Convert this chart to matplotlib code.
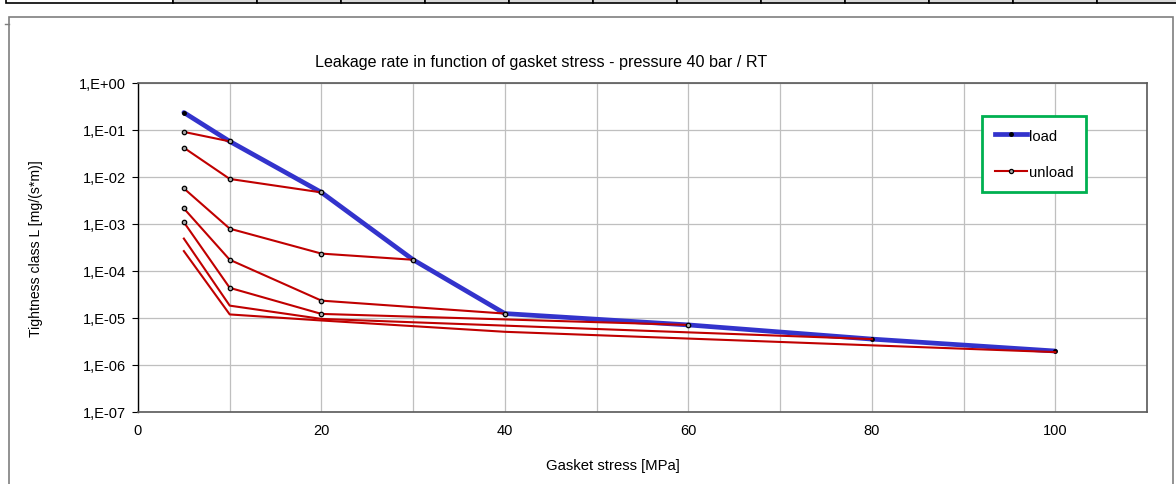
"""
leakage rate vs gasket stress, load / unload curves at 40 bar, RT
"""
import matplotlib
matplotlib.use('Agg')
import matplotlib.pyplot as plt
from matplotlib import ticker
from matplotlib.patches import Rectangle
from matplotlib.lines import Line2D
import numpy as np

plt.rcParams['font.family'] = ['Liberation Sans', 'DejaVu Sans']
plt.rcParams['font.size'] = 10.5

W, H = 1176, 485

# load curve
x_load = [5, 10, 20, 30, 40, 60, 80, 100]
L_load = [2.3e-1, 5.6e-2, 4.6e-3, 1.7e-4, 1.22e-5, 7.0e-6, 3.5e-6, 1.95e-6]

# unload curves, one per max stress reached
x_un10 = [5, 10]
L_un10 = [8.9e-2, 5.6e-2]
x_un20 = [5, 10, 20]
L_un20 = [4.1e-2, 8.9e-3, 4.6e-3]
x_un30 = [5, 10, 20, 30]
L_un30 = [5.6e-3, 7.8e-4, 2.3e-4, 1.7e-4]
x_un40 = [5, 10, 20, 40]
L_un40 = [2.1e-3, 1.7e-4, 2.3e-5, 1.22e-5]
x_un60 = [5, 10, 20, 60]
L_un60 = [1.07e-3, 4.3e-5, 1.2e-5, 7.0e-6]
x_un80 = [5, 10, 20, 80]
L_un80 = [4.8e-4, 1.8e-5, 9.4e-6, 3.5e-6]
x_un100 = [5, 10, 20, 40, 100]
L_un100 = [2.6e-4, 1.17e-5, 8.7e-6, 5.0e-6, 1.85e-6]

unload_marked = [(x_un10, L_un10), (x_un20, L_un20), (x_un30, L_un30),
                 (x_un40, L_un40), (x_un60, L_un60)]
unload_plain = [(x_un80, L_un80), (x_un100, L_un100)]

blue = '#3333CC'
red = '#C00000'

def fx(x):
    return x / W

def fy(y):
    return 1 - y / H

f = plt.figure(figsize=(W / 100, H / 100), dpi=100)

# strip of the sheet table above the chart
f.patches.append(Rectangle((fx(6), fy(4)), fx(173) - fx(6), fy(-5) - fy(4),
                           transform=f.transFigure, fc='white', ec='black', lw=1.2))
cols = np.arange(173, W + 84, 84)
for c in cols:
    f.patches.append(Rectangle((fx(c), fy(4)), fx(84), fy(-5) - fy(4),
                               transform=f.transFigure, fc='#d9d9d9', ec='black', lw=1.2))
# chart frame
f.patches.append(Rectangle((fx(9), fy(H + 5)), fx(1173) - fx(9), fy(17.5) - fy(H + 5),
                           transform=f.transFigure, fc='none', ec='#7f7f7f', lw=1.2))
f.lines.append(Line2D([fx(5), fx(9)], [fy(25), fy(25)], transform=f.transFigure,
                      color='#7f7f7f', lw=1))

ax = f.add_axes([fx(138), fy(412.7), fx(1147) - fx(138), fy(83.5) - fy(412.7)])

ax.plot(x_load, L_load, color=blue, lw=3.4, marker='o', ms=2.5,
        mfc='black', mec='black', solid_capstyle='round', zorder=3)
for xs, ys in unload_marked:
    ax.plot(xs, ys, color=red, lw=1.5, marker='o', ms=3.2, mfc='#a8a8a8',
            mec='black', mew=0.9, zorder=4)
for xs, ys in unload_plain:
    ax.plot(xs, ys, color=red, lw=1.5, zorder=4)

ax.set_yscale('log')
ax.set_ylim(1e-7, 1)
ax.set_xlim(0, 110)
ax.yaxis.set_major_locator(ticker.FixedLocator(10.0 ** np.arange(-7, 1)))
ax.yaxis.set_minor_locator(ticker.NullLocator())
ax.yaxis.set_major_formatter(ticker.FuncFormatter(
    lambda v, p: '1,E%+03d' % int(round(np.log10(v)))))
ax.xaxis.set_major_locator(ticker.MultipleLocator(10))
ax.xaxis.set_major_formatter(ticker.FuncFormatter(
    lambda v, p: '%d' % v if (int(round(v)) % 20 == 0 and v <= 100) else ''))
ax.grid(True, color='#bfbfbf', lw=0.9)
ax.set_axisbelow(True)
ax.tick_params(axis='y', length=4, width=0.8, pad=5, labelsize=10.5)
ax.tick_params(axis='x', length=0, pad=8, labelsize=10.5)
for s in ['top', 'right', 'bottom']:
    ax.spines[s].set_color('#595959')
    ax.spines[s].set_linewidth(1.2)
ax.spines['left'].set_color('black')
ax.spines['left'].set_linewidth(1.0)

f.text(fx(541), fy(62), 'Leakage rate in function of gasket stress - pressure 40 bar / RT',
       ha='center', va='center', fontsize=11.6)
f.text(fx(613), fy(466), 'Gasket stress [MPa]', ha='center', va='center', fontsize=10.7)
f.text(fx(36), fy(249), 'Tightness class L [mg/(s*m)]', ha='center', va='center',
       rotation=90, fontsize=10.1)

h_load = Line2D([], [], color=blue, lw=3.4, marker='o', ms=2.5, mfc='black', mec='black')
h_un = Line2D([], [], color=red, lw=1.5, marker='o', ms=3, mfc='#a8a8a8', mec='black', mew=0.9)
leg = ax.legend([h_load, h_un], ['load', 'unload'], loc='upper left',
                bbox_to_anchor=(fx(982), fy(117)), bbox_transform=f.transFigure,
                borderaxespad=0, fancybox=False, framealpha=1, edgecolor='#00B050',
                handlelength=2.2, handletextpad=0.15, labelspacing=1.55,
                borderpad=0.85, numpoints=1, fontsize=10.6)
leg.get_frame().set_linewidth(2)

f.savefig('out.png', dpi=100)
